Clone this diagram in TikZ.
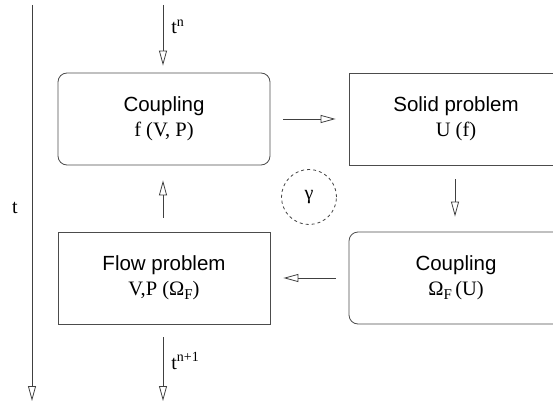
\documentclass[tikz,border=0pt]{standalone}
\usepackage{fontspec}
\setmainfont{Liberation Serif}
\setsansfont{Liberation Sans}
\usetikzlibrary{arrows.meta}
\begin{document}
\begin{tikzpicture}[x=1pt,y=-1pt,
  line width=0.8pt,
  box/.style={draw=black!70, minimum width=212pt, minimum height=92pt, inner sep=0pt, align=center, font=\fontsize{20.5}{25}\selectfont},
  rbox/.style={box, rounded corners=9pt},
  conn/.style={draw=black!75, -{Triangle[open, length=15pt, width=8pt]}},
  lbl/.style={font=\fontsize{20}{24}\selectfont, inner sep=0pt}]
\useasboundingbox (0,0) rectangle (553,403);
\node[rbox] (c1) at (164,119) {{\sffamily Coupling}\\ f (V, P)};
\node[box, minimum width=214pt] (solid) at (456,119) {{\sffamily Solid problem}\\ U (f)};
\node[box] (flow) at (164,278) {{\sffamily Flow problem}\\ V,P (Ω\raisebox{-0.35ex}{\fontsize{15}{15}\selectfont F})};
\node[rbox, minimum width=214pt] (c2) at (456,278) {{\sffamily Coupling}\\ Ω\raisebox{-0.35ex}{\fontsize{15}{15}\selectfont F}\,(U)};
\node[draw=black!75, dashed, circle, minimum size=55pt, inner sep=0pt, font=\fontsize{20}{24}\selectfont] (g) at (309,197) {γ};
\coordinate (ta) at (32,5);
\coordinate (tb) at (32,401);
\coordinate (na) at (163,5);
\coordinate (nb) at (163,401);
\draw[conn] (ta) -- (tb);
\node[lbl] (tl) at (15,208) {t};
\draw[conn, shorten >=7pt] (na) -- (na |- c1.north);
\node[lbl, anchor=west] (tn) at (171,27) {t\textsuperscript{n}};
\draw[conn, shorten <=13pt, shorten >=13pt] (c1.east) -- (solid.west);
\draw[conn, shorten <=14pt, shorten >=15pt] (solid.south -| 455,0) -- (c2.north -| 455,0);
\draw[conn, shorten <=13pt, shorten >=13pt] (c2.west) -- (flow.east);
\draw[conn, shorten <=14pt, shorten >=15pt] (flow.north -| 163,0) -- (c1.south -| 163,0);
\draw[conn, shorten <=13pt] (flow.south -| nb) -- (nb);
\node[lbl, anchor=west] (tn1) at (171,361) {t\textsuperscript{n+1}};
\end{tikzpicture}
\end{document}
